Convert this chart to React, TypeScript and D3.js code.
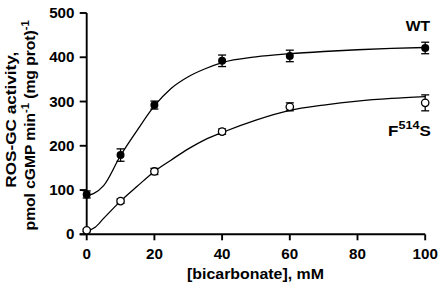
import React from "react";
import * as d3 from "d3";

const concentrations = [0, 10, 20, 40, 60, 100];
const wtMean = [90, 179, 292, 392, 403, 421];
const wtErr = [8, 14, 9, 13, 13, 13];
const mutMean = [9, 75, 142, 232, 288, 297];
const mutErr = [3, 5, 7, 6, 9, 18];

const wtFitX = [0, 2, 5, 10, 15, 20, 25, 30, 35, 40, 50, 60, 70, 80, 90, 100];
const wtFitY = [88, 92, 110, 178, 236, 290, 330, 356, 374, 388, 401, 408, 413, 417, 420, 422];
const mutFitX = [0, 2.5, 5, 10, 15, 20, 25, 30, 35, 40, 50, 60, 70, 80, 90, 100];
const mutFitY = [7, 16, 36, 75, 109, 142, 168, 193, 214, 230, 258, 280, 292, 301, 307, 311];

const xTicks = [0, 20, 40, 60, 80, 100];
const yTicks = [0, 100, 200, 300, 400, 500];

const FONT = "'Liberation Sans', Arial, Helvetica, sans-serif";

export default function App() {
  const W = 443;
  const H = 289;
  const x = d3.scaleLinear().domain([0, 100]).range([86.7, 425.2]);
  const y = d3.scaleLinear().domain([0, 500]).range([234.3, 13]);

  const line = d3
    .line<[number, number]>()
    .x((d) => x(d[0]))
    .y((d) => y(d[1]))
    .curve(d3.curveMonotoneX);

  const wtFit = line(wtFitX.map((v, i) => [v, wtFitY[i]] as [number, number])) || "";
  const mutFit = line(mutFitX.map((v, i) => [v, mutFitY[i]] as [number, number])) || "";

  const cap = 4;
  const errBars = (mean: number[], err: number[], key: string) =>
    concentrations.map((c, i) => {
      const cx = x(c);
      const top = y(mean[i] + err[i]);
      const bot = y(mean[i] - err[i]);
      return (
        <g key={key + i} stroke="#000" strokeWidth={1.3}>
          <line x1={cx} x2={cx} y1={top} y2={bot} />
          <line x1={cx - cap} x2={cx + cap} y1={top} y2={top} />
          <line x1={cx - cap} x2={cx + cap} y1={bot} y2={bot} />
        </g>
      );
    });

  return (
    <svg
      width={W}
      height={H}
      style={{ position: "absolute", left: 0, top: 0, background: "#fff" }}
      fontFamily={FONT}
      fontWeight="bold"
    >
      <rect width={W} height={H} fill="#fff" />
      {/* axes */}
      <g stroke="#000" strokeWidth={1.9} fill="none">
        <line x1={x(0)} x2={x(0)} y1={y(500)} y2={y(0)} />
        <line x1={x(0) - 7} x2={x(100)} y1={y(0)} y2={y(0)} />
        {yTicks.map((t) => (
          <line key={"yt" + t} x1={x(0) - 7} x2={x(0)} y1={y(t)} y2={y(t)} />
        ))}
        {xTicks.map((t) => (
          <line key={"xt" + t} x1={x(t)} x2={x(t)} y1={y(0)} y2={y(0) + 6} />
        ))}
      </g>
      {yTicks.map((t) => (
        <text
          key={"yl" + t}
          transform={`translate(74.5,${y(t) + 5}) scale(1.1,1)`}
          textAnchor="end"
          fontSize={13.8}
        >
          {t}
        </text>
      ))}
      {xTicks.map((t) => (
        <text
          key={"xl" + t}
          transform={`translate(${x(t)},258.5) scale(1.1,1)`}
          textAnchor="middle"
          fontSize={13.8}
        >
          {t}
        </text>
      ))}
      <text
        x={255.5}
        y={279}
        textAnchor="middle"
        fontSize={14}
        textLength={137}
        lengthAdjust="spacingAndGlyphs"
      >
        [bicarbonate], mM
      </text>
      <text
        transform="translate(16,119.7) rotate(-90)"
        textAnchor="middle"
        fontSize={14}
        textLength={136}
        lengthAdjust="spacingAndGlyphs"
      >
        ROS-GC activity,
      </text>
      <text
        transform="translate(35,125.4) rotate(-90)"
        textAnchor="middle"
        fontSize={14}
        textLength={210}
        lengthAdjust="spacingAndGlyphs"
      >
        pmol cGMP min
        <tspan fontSize={10} dy={-6}>-1</tspan>
        <tspan dy={6}> (mg prot)</tspan>
        <tspan fontSize={10} dy={-6}>-1</tspan>
      </text>

      {/* fits */}
      <path d={wtFit} fill="none" stroke="#000" strokeWidth={1.3} />
      <path d={mutFit} fill="none" stroke="#000" strokeWidth={1.3} />

      {errBars(wtMean, wtErr, "wte")}
      {errBars(mutMean, mutErr, "mte")}

      {concentrations.map((c, i) => (
        <circle key={"wt" + i} cx={x(c)} cy={y(wtMean[i])} r={4} fill="#000" />
      ))}
      {concentrations.map((c, i) => (
        <circle
          key={"mt" + i}
          cx={x(c)}
          cy={y(mutMean[i])}
          r={3.7}
          fill="#fff"
          stroke="#000"
          strokeWidth={1.3}
        />
      ))}

      <text
        transform="translate(430,31) scale(1.08,1)"
        textAnchor="end"
        fontSize={14.5}
      >
        WT
      </text>
      <text
        transform="translate(431,136) scale(1.1,1)"
        textAnchor="end"
        fontSize={15.5}
      >
        F<tspan fontSize={11.5} dy={-7}>514</tspan>
        <tspan dy={7}>S</tspan>
      </text>
    </svg>
  );
}
